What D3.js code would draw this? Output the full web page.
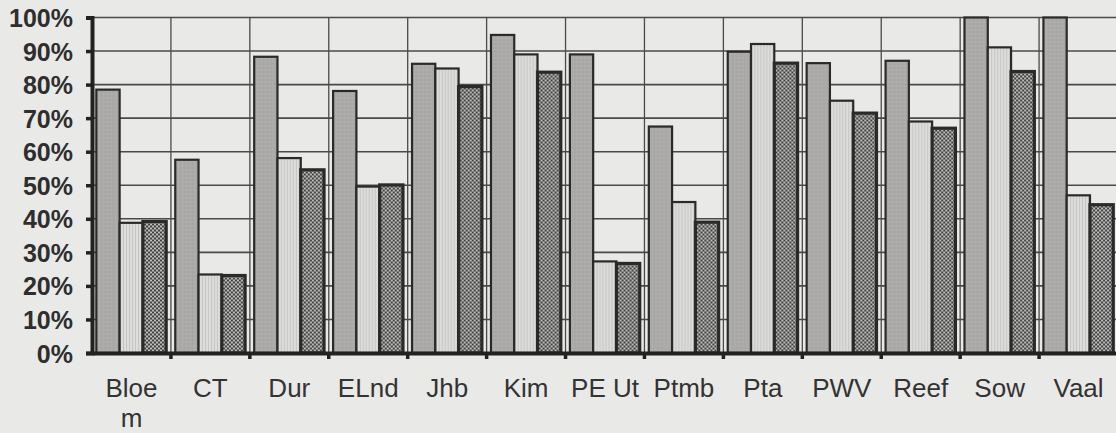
<!DOCTYPE html>
<html>
<head>
<meta charset="utf-8">
<script src="https://cdn.jsdelivr.net/npm/d3@7"></script>
<style>
  html, body { margin: 0; padding: 0; background: #e9e9e7; }
  svg { display: block; }
</style>
</head>
<body>
<svg id="chart" width="1116" height="433"></svg>
<script>
// Regions along the category axis (long names wrap onto two lines)
const categories = ["Bloem", "CT", "Dur", "ELnd", "Jhb", "Kim", "PE Ut", "Ptmb", "Pta", "PWV", "Reef", "Sow", "Vaal"];
const categoryLines = [["Bloe", "m"], ["CT"], ["Dur"], ["ELnd"], ["Jhb"], ["Kim"], ["PE Ut"], ["Ptmb"], ["Pta"], ["PWV"], ["Reef"], ["Sow"], ["Vaal"]];

// Three series per region, in percent
const seriesA = [78.5, 57.6, 88.3, 78.1, 86.2, 94.8, 89.0, 67.5, 89.8, 86.4, 87.1, 100, 100];
const seriesB = [38.8, 23.4, 58.1, 49.6, 84.8, 89.0, 27.3, 45.0, 92.1, 75.2, 69.0, 91.1, 47.0];
const seriesC = [39.2, 23.1, 54.6, 50.1, 79.4, 83.7, 26.7, 39.0, 86.4, 71.5, 67.0, 83.9, 44.2];

const yTicks = [0, 10, 20, 30, 40, 50, 60, 70, 80, 90, 100];

const svg = d3.select("#chart");
const margin = { left: 92, top: 17.5, bottom: 80 };
const plotW = 1118 - margin.left;
const plotH = 433 - margin.top - margin.bottom;

// Fill patterns for the three series
const defs = svg.append("defs");

const pA = defs.append("pattern").attr("id", "fillA")
  .attr("patternUnits", "userSpaceOnUse").attr("width", 4).attr("height", 4);
pA.append("rect").attr("width", 4).attr("height", 4).attr("fill", "#abaaa8");
pA.append("rect").attr("x", 1).attr("y", 2).attr("width", 1).attr("height", 1).attr("fill", "#9e9e9c");
pA.append("rect").attr("x", 3).attr("y", 0).attr("width", 1).attr("height", 1).attr("fill", "#b6b6b4");

const pB = defs.append("pattern").attr("id", "fillB")
  .attr("patternUnits", "userSpaceOnUse").attr("width", 3).attr("height", 3);
pB.append("rect").attr("width", 3).attr("height", 3).attr("fill", "#dddddb");
pB.append("rect").attr("x", 1).attr("width", 1).attr("height", 3).attr("fill", "#c5c5c3");

const pC = defs.append("pattern").attr("id", "fillC")
  .attr("patternUnits", "userSpaceOnUse").attr("width", 4).attr("height", 4);
pC.append("rect").attr("width", 4).attr("height", 4).attr("fill", "#424242");
pC.append("rect").attr("x", 0).attr("y", 0).attr("width", 2).attr("height", 2).attr("fill", "#bcbcba");
pC.append("rect").attr("x", 2).attr("y", 2).attr("width", 2).attr("height", 2).attr("fill", "#bcbcba");

const g = svg.append("g").attr("transform", `translate(${margin.left},${margin.top})`);

const x0 = d3.scaleBand().domain(categories).range([0, plotW]).padding(0);
const step = x0.bandwidth();
const x1 = d3.scaleBand().domain(["A", "B", "C"]).range([step * 0.055, step * 0.94]).padding(0);
const y = d3.scaleLinear().domain([0, 100]).range([plotH, 0]);

// Horizontal gridlines
g.append("g").selectAll("line").data(yTicks.filter(t => t > 0)).join("line")
  .attr("x1", 0).attr("x2", plotW)
  .attr("y1", d => y(d)).attr("y2", d => y(d))
  .attr("stroke", "#4a4a4a").attr("stroke-width", 1.6);

// Vertical gridlines at category boundaries
g.append("g").selectAll("line").data(categories.slice(1)).join("line")
  .attr("x1", d => x0(d)).attr("x2", d => x0(d))
  .attr("y1", 0).attr("y2", plotH)
  .attr("stroke", "#4a4a4a").attr("stroke-width", 1.3);

// Bars
const rows = categories.map((c, i) => ({ c, vals: [
  { k: "A", v: seriesA[i] }, { k: "B", v: seriesB[i] }, { k: "C", v: seriesC[i] }
]}));
const fills = { A: "url(#fillA)", B: "url(#fillB)", C: "url(#fillC)" };
const strokeW = { A: 2.2, B: 2.2, C: 3.2 };

g.append("g").selectAll("g").data(rows).join("g")
  .attr("transform", d => `translate(${x0(d.c)},0)`)
  .selectAll("rect").data(d => d.vals).join("rect")
  .attr("x", d => x1(d.k))
  .attr("y", d => y(d.v))
  .attr("width", x1.bandwidth())
  .attr("height", d => plotH - y(d.v))
  .attr("fill", d => fills[d.k])
  .attr("stroke", "#2a2a2a")
  .attr("stroke-width", d => strokeW[d.k]);

// Y axis
const yAxis = d3.axisLeft(y).tickValues(yTicks).tickSize(6).tickFormat(d => d + "%");
const ya = g.append("g").call(yAxis);
ya.select(".domain").attr("stroke", "#222").attr("stroke-width", 4);
ya.selectAll(".tick line").attr("stroke", "#222").attr("stroke-width", 3.5);
ya.selectAll(".tick text")
  .attr("x", -19).attr("dy", "0.36em")
  .attr("fill", "#2e2e2e")
  .style("font-family", "'Liberation Sans', Arial, sans-serif")
  .style("font-size", "25px").style("font-weight", "bold");

// X axis
const xAxis = d3.axisBottom(x0).tickSize(0).tickFormat(() => "");
const xa = g.append("g").attr("transform", `translate(0,${plotH})`).call(xAxis);
xa.select(".domain").attr("stroke", "#222").attr("stroke-width", 4);
xa.selectAll(".tick").remove();

// Tick marks at category boundaries
g.append("g").selectAll("line").data(categories.slice(1)).join("line")
  .attr("x1", d => x0(d)).attr("x2", d => x0(d))
  .attr("y1", plotH).attr("y2", plotH + 6)
  .attr("stroke", "#222").attr("stroke-width", 3.5);

// Category labels
const lbl = g.append("g").selectAll("text").data(categories).join("text")
  .attr("text-anchor", "middle")
  .attr("fill", "#333")
  .style("font-family", "'Liberation Sans', Arial, sans-serif")
  .style("font-size", "26px")
  .attr("transform", d => `translate(${x0(d) + step / 2},${plotH + 44})`);
lbl.selectAll("tspan").data((d, i) => categoryLines[i]).join("tspan")
  .attr("x", 0)
  .attr("y", (d, i) => i * 30)
  .text(d => d);
</script>
</body>
</html>
